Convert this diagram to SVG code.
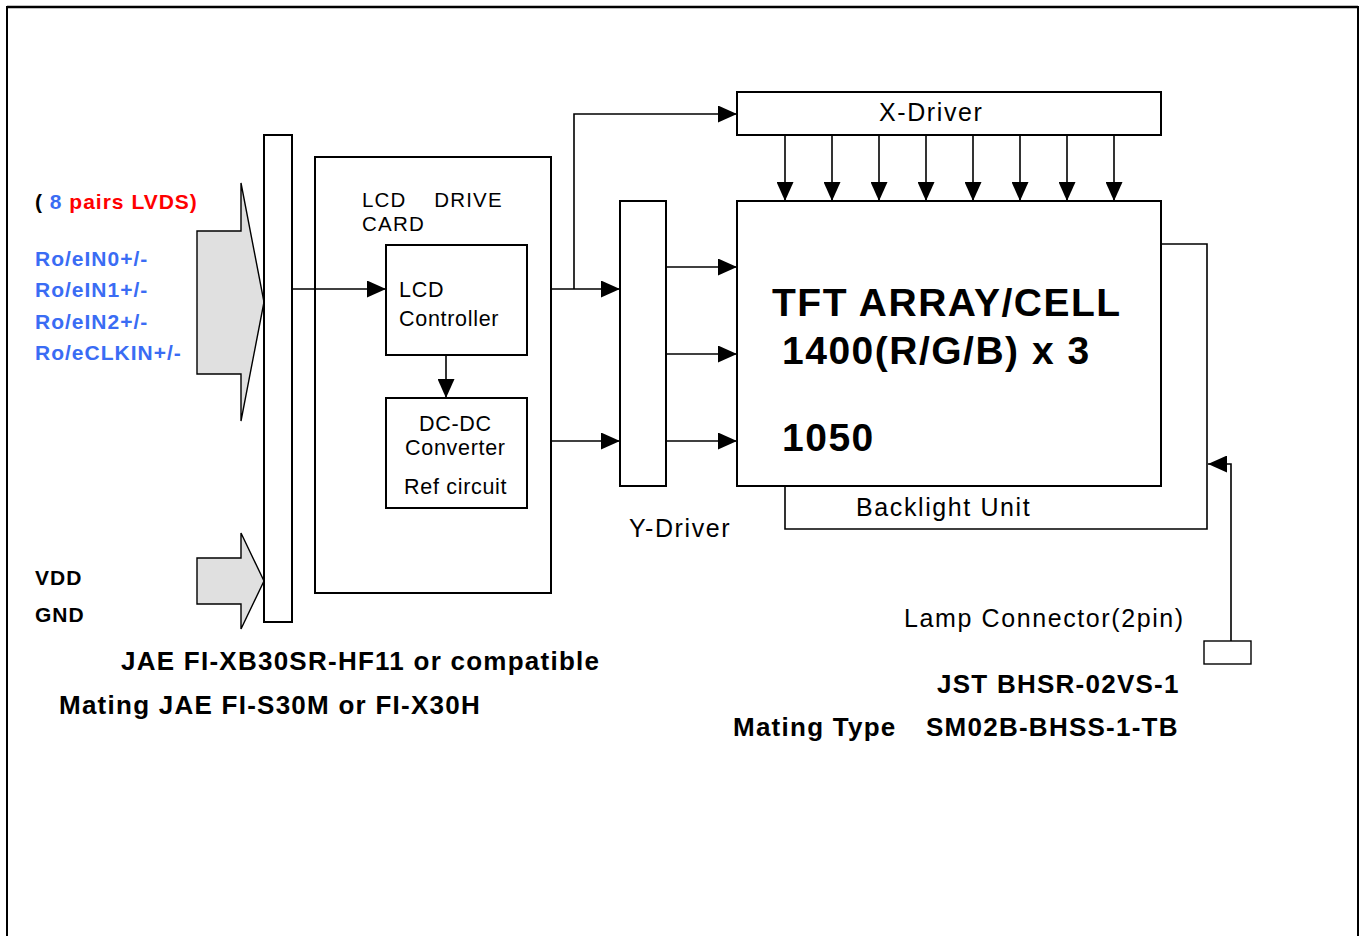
<svg xmlns="http://www.w3.org/2000/svg" width="1364" height="936" viewBox="0 0 1364 936">
<style>
.box{fill:#fff;stroke:#000;stroke-width:2}
.ln{fill:none;stroke:#000;stroke-width:1.6}
.harr{fill:#e0e0e0;stroke:#000;stroke-width:1.4}
.t{font-family:"Liberation Sans",Arial,Helvetica,sans-serif;font-size:21.5px;letter-spacing:0.7px;fill:#000}
.card{font-size:20.5px;letter-spacing:1.2px}
.tl{font-size:25px;letter-spacing:1.6px}
.b{font-weight:bold;font-size:21px;letter-spacing:1px}
.bb{font-size:26px;font-weight:bold;letter-spacing:1.25px}
.blue{fill:#3a6cf4}
.red{fill:#ff0000}
.big{font-size:39px;font-weight:bold;letter-spacing:1.5px}
</style>
<defs>
<marker id="ah" viewBox="0 0 10 10" refX="10" refY="5" markerUnits="userSpaceOnUse" markerWidth="19" markerHeight="17" preserveAspectRatio="none" orient="auto">
<path d="M0,0 L10,5 L0,10 z" fill="#000"/>
</marker>
</defs>
<rect width="1364" height="936" fill="#fff"/>
<path d="M7,936 V7 H1358 V936" fill="none" stroke="#000" stroke-width="2"/>
<line x1="7" y1="7" x2="1358" y2="7" stroke="#000" stroke-width="2.5"/>

<g id="lvds-arrow">
<path class="harr" d="M197,231 H241 V183 L264,302 L241,421 V374 H197 Z"/>
</g>
<g id="power-arrow">
<path class="harr" d="M197,558 H241 V533 L264,581 L241,629 V604 H197 Z"/>
</g>
<g id="lvds-labels">
<text class="t b" x="35" y="209"><tspan>(</tspan><tspan class="blue"> 8</tspan><tspan class="red"> pairs LVDS)</tspan></text>
<text class="t b blue" x="35" y="266">Ro/eIN0+/-</text>
<text class="t b blue" x="35" y="297">Ro/eIN1+/-</text>
<text class="t b blue" x="35" y="329">Ro/eIN2+/-</text>
<text class="t b blue" x="35" y="360">Ro/eCLKIN+/-</text>
</g>
<g id="power-labels">
<text class="t b" x="35" y="585">VDD</text>
<text class="t b" x="35" y="622">GND</text>
</g>
<g id="connector">
<rect class="box" x="264" y="135" width="28" height="487"/>
</g>
<g id="drive-card">
<rect class="box" x="315" y="157" width="236" height="436"/>
<text class="t card" x="362" y="207" xml:space="preserve">LCD    DRIVE</text>
<text class="t card" x="362" y="231">CARD</text>
</g>
<g id="lcd-controller">
<rect class="box" x="386" y="245" width="141" height="110"/>
<text class="t" x="399" y="297">LCD</text>
<text class="t" x="399" y="326">Controller</text>
</g>
<g id="dcdc">
<rect class="box" x="386" y="398" width="141" height="110"/>
<text class="t" x="419" y="431">DC-DC</text>
<text class="t" x="405" y="455">Converter</text>
<text class="t" x="404" y="494">Ref circuit</text>
</g>
<g id="y-driver">
<rect class="box" x="620" y="201" width="46" height="285"/>
<text class="t tl" x="629" y="537">Y-Driver</text>
</g>
<g id="x-driver">
<rect class="box" x="737" y="92" width="424" height="43"/>
<text class="t tl" x="879" y="121">X-Driver</text>
</g>
<g id="tft">
<rect class="box" x="737" y="201" width="424" height="285"/>
<text class="t big" x="772" y="316">TFT ARRAY/CELL</text>
<text class="t big" x="782" y="364">1400(R/G/B) x 3</text>
<text class="t big" x="782" y="451">1050</text>
</g>
<g id="backlight">
<path class="ln" d="M785,487 V529 H1207 V244 H1161"/>
<text class="t tl" x="856" y="516">Backlight Unit</text>
</g>
<g id="lamp-connector">
<rect x="1204" y="641" width="47" height="23" fill="#fff" stroke="#000" stroke-width="1.4"/>
<text class="t tl" x="904" y="627">Lamp Connector(2pin)</text>
</g>
<g id="labels">
<text class="t bb" x="121" y="670">JAE FI-XB30SR-HF11 or compatible</text>
<text class="t bb" x="59" y="714">Mating JAE FI-S30M or FI-X30H</text>
<text class="t bb" x="937" y="693">JST BHSR-02VS-1</text>
<text class="t bb" x="733" y="736">Mating Type<tspan x="926">SM02B-BHSS-1-TB</tspan></text>
</g>
<g id="connectors">
<line class="ln" x1="292" y1="289" x2="386" y2="289" marker-end="url(#ah)"/>
<line class="ln" x1="446" y1="355" x2="446" y2="398" marker-end="url(#ah)"/>
<line class="ln" x1="551" y1="289" x2="620" y2="289" marker-end="url(#ah)"/>
<path class="ln" d="M574,289 V114 H737" marker-end="url(#ah)"/>
<line class="ln" x1="551" y1="441" x2="620" y2="441" marker-end="url(#ah)"/>
<line class="ln" x1="667" y1="267" x2="737" y2="267" marker-end="url(#ah)"/>
<line class="ln" x1="667" y1="354" x2="737" y2="354" marker-end="url(#ah)"/>
<line class="ln" x1="667" y1="441" x2="737" y2="441" marker-end="url(#ah)"/>
<line class="ln" x1="785" y1="136" x2="785" y2="201" marker-end="url(#ah)"/>
<line class="ln" x1="832" y1="136" x2="832" y2="201" marker-end="url(#ah)"/>
<line class="ln" x1="879" y1="136" x2="879" y2="201" marker-end="url(#ah)"/>
<line class="ln" x1="926" y1="136" x2="926" y2="201" marker-end="url(#ah)"/>
<line class="ln" x1="973" y1="136" x2="973" y2="201" marker-end="url(#ah)"/>
<line class="ln" x1="1020" y1="136" x2="1020" y2="201" marker-end="url(#ah)"/>
<line class="ln" x1="1067" y1="136" x2="1067" y2="201" marker-end="url(#ah)"/>
<line class="ln" x1="1114" y1="136" x2="1114" y2="201" marker-end="url(#ah)"/>
<path class="ln" d="M1231,641 V464 H1208" marker-end="url(#ah)"/>
</g>
</svg>
